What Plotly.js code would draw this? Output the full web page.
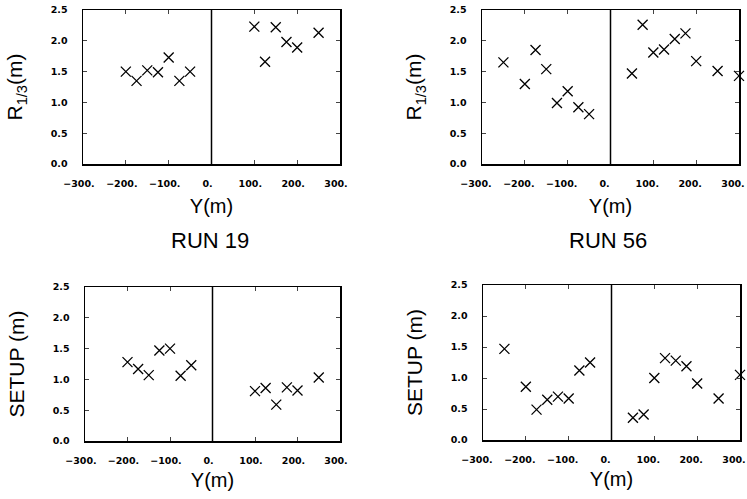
<!DOCTYPE html>
<html>
<head>
<meta charset="utf-8">
<script src="https://cdn.plot.ly/plotly-3.0.1.min.js"></script>
<style>html,body{margin:0;padding:0;background:#fff;}#chart{width:747px;height:499px;}</style>
</head>
<body>
<div id="chart"></div>
<script>
// Run 19: alongshore position Y (m)
const y19 = [-200, -175, -150, -125, -100, -75, -50, 100, 125, 150, 175, 200, 250];
const r19 = [1.50, 1.35, 1.52, 1.49, 1.73, 1.35, 1.50, 2.23, 1.66, 2.22, 1.98, 1.89, 2.13];
const setup19 = [1.28, 1.17, 1.07, 1.47, 1.50, 1.06, 1.23, 0.81, 0.86, 0.59, 0.87, 0.82, 1.03];

// Run 56
const y56 = [-250, -200, -175, -150, -125, -100, -75, -50, 50, 75, 100, 125, 150, 175, 200, 250, 300];
const r56 = [1.65, 1.30, 1.85, 1.54, 0.99, 1.18, 0.92, 0.81, 1.47, 2.26, 1.81, 1.86, 2.03, 2.12, 1.67, 1.51, 1.43];
const setup56 = [1.47, 0.86, 0.49, 0.65, 0.70, 0.67, 1.12, 1.25, 0.36, 0.41, 1.00, 1.32, 1.28, 1.19, 0.91, 0.67, 1.05];

// Tick labels
const xTickVals = [-300, -200, -100, 0, 100, 200, 300];
const xTickText = ['\u2212300.', '\u2212200.', '\u2212100.', '0.', '100.', '200.', '300.'];
const yTickVals = [0, 0.5, 1, 1.5, 2, 2.5];
const yTickText = ['0.0', '0.5', '1.0', '1.5', '2.0', '2.5'];

const runLabels = ['RUN 19', 'RUN 56'];

const W = 747, H = 499;
const marker = {symbol: 'x-thin-open', size: 10, color: '#000', line: {color: '#000', width: 1.3}};

function tr(x, y, xa, ya) {
  return {x: x, y: y, xaxis: xa, yaxis: ya, type: 'scatter', mode: 'markers',
          marker: marker, cliponaxis: false, showlegend: false, hoverinfo: 'skip'};
}

const titleFont = {family: 'Liberation Sans, Arial, sans-serif', size: 20, color: '#000'};
const tickFont = {family: 'DejaVu Sans, sans-serif', size: 9.5, color: '#000', weight: 'bold'};

function xax(d, anchor, so, shift) {
  return {domain: d, anchor: anchor, range: [-300, 300], tickmode: 'array',
          tickvals: xTickVals, ticktext: xTickText, ticks: 'inside', ticklen: 4, tickwidth: 1,
          showline: true, mirror: 'ticks', linecolor: '#000', linewidth: 1.5,
          showgrid: false, zeroline: false, tickfont: tickFont, ticklabelstandoff: 10,
          ticklabelshift: shift, ticklabeloverflow: 'allow',
          title: {text: 'Y(m)', font: titleFont, standoff: so}, automargin: false};
}
function yax(d, anchor, t) {
  return {domain: d, anchor: anchor, range: [0, 2.5], tickmode: 'array',
          tickvals: yTickVals, ticktext: yTickText, ticks: 'inside', ticklen: 4, tickwidth: 1,
          showline: true, mirror: 'ticks', linecolor: '#000', linewidth: 1.5,
          showgrid: false, zeroline: false, tickfont: tickFont, ticklabelstandoff: 12,
          ticklabeloverflow: 'allow',
          title: {text: t, font: Object.assign({}, titleFont, {size: 21}), standoff: 22}, automargin: false};
}

const data = [
  tr(y19, r19, 'x', 'y'),
  tr(y56, r56, 'x2', 'y2'),
  tr(y19, setup19, 'x3', 'y3'),
  tr(y56, setup56, 'x4', 'y4')
];

function vline(xa, ya) {
  return {type: 'line', xref: xa, yref: ya, x0: 0, x1: 0, y0: 0, y1: 2.5,
          line: {color: '#000', width: 1.5}};
}

const layout = {
  width: W, height: H,
  margin: {l: 0, r: 0, t: 0, b: 0},
  paper_bgcolor: '#fff', plot_bgcolor: '#fff',
  showlegend: false,
  xaxis:  xax([83 / W, 340 / W], 'y', 11, -4),
  yaxis:  yax([1 - 164 / H, 1 - 10 / H], 'x', 'R<sub>1/3</sub>(m)'),
  xaxis2: xax([482 / W, 739 / W], 'y2', 11, -6),
  yaxis2: yax([1 - 164 / H, 1 - 10 / H], 'x2', 'R<sub>1/3</sub>(m)'),
  xaxis3: xax([85 / W, 340 / W], 'y3', 8, -4),
  yaxis3: yax([1 - 441 / H, 1 - 287 / H], 'x3', 'SETUP (m)'),
  xaxis4: xax([483 / W, 740 / W], 'y4', 8, -6),
  yaxis4: yax([1 - 440 / H, 1 - 285 / H], 'x4', 'SETUP (m)'),
  shapes: [vline('x', 'y'), vline('x2', 'y2'), vline('x3', 'y3'), vline('x4', 'y4')],
  annotations: [
    {text: runLabels[0], xref: 'paper', yref: 'paper', x: 210 / W, y: 1 - 241 / H,
     xanchor: 'center', yanchor: 'middle', showarrow: false,
     font: {family: 'Liberation Sans, Arial, sans-serif', size: 22, color: '#000'}},
    {text: runLabels[1], xref: 'paper', yref: 'paper', x: 608 / W, y: 1 - 241 / H,
     xanchor: 'center', yanchor: 'middle', showarrow: false,
     font: {family: 'Liberation Sans, Arial, sans-serif', size: 22, color: '#000'}}
  ]
};

Plotly.newPlot('chart', data, layout, {displayModeBar: false, staticPlot: true});
</script>
</body>
</html>
